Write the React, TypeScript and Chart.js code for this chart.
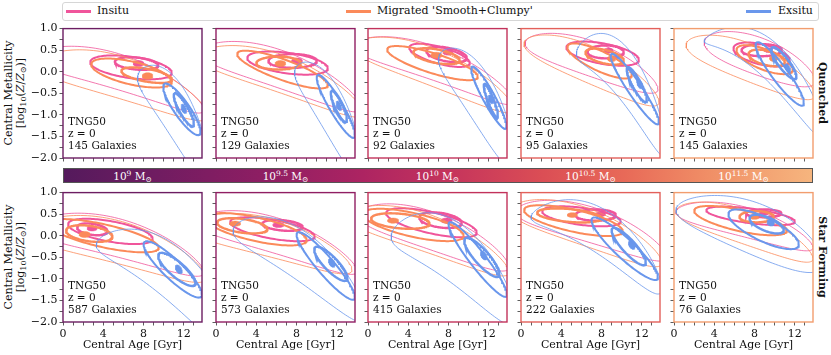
import React, { useEffect, useRef } from 'react';
import { Chart, registerables } from 'chart.js';
Chart.register(...registerables);

const SERIF = "'DejaVu Serif', 'Liberation Serif', serif";

// ---------------- data ----------------
const massExponents = ['9', '9.5', '10', '10.5', '11.5'];
const quenchedGalaxies = [145, 129, 92, 95, 145];
const starFormingGalaxies = [587, 573, 415, 222, 76];
const ageTickLabels = [0, 4, 8, 12];
const metallicityTickLabels = [1, 0.5, 0, -0.5, -1, -1.5, -2];
const populationNames = ['Insitu', "Migrated 'Smooth+Clumpy'", 'Exsitu'];
const rowNames = ['Quenched', 'Star Forming'];

// density peak (filled innermost level): [age, logZ, halfAge, halfZ, tilt]
// contour levels (outer, middle, inner): [age, logZ, halfAge, halfZ, tilt, bend, taper]
const insituQuenchedPeak = [
  [7.5, 0.19, 0.53, 0.07, 0], [8.05, 0.25, 0.53, 0.07, 0], [7.95, 0.45, 0.5, 0.065, 0],
  [8.7, 0.49, 0.45, 0.06, 0], [9.37, 0.5, 0.4, 0.055, 0],
];
const insituQuenchedLevels = [
  [[5.5, 0.0, 8.5, 0.42, -0.07, -0.004], [6.75, 0.1, 4.05, 0.25, -0.03, 0], [7.3, 0.19, 2.15, 0.14, -0.02, 0]],
  [[6.5, 0.05, 8, 0.45, -0.08, -0.004], [7.1, 0.2, 4.0, 0.24, -0.03, 0], [7.6, 0.25, 2.4, 0.16, 0, 0]],
  [[6.5, 0.2, 8, 0.4, -0.08, -0.004], [7.1, 0.38, 3.0, 0.2, -0.06, 0], [7.8, 0.4, 2.0, 0.16, -0.04, 0]],
  [[7, 0.3, 6.6, 0.42, -0.08, -0.004], [8.1, 0.42, 3.6, 0.24, -0.04, 0], [8.4, 0.46, 1.8, 0.15, 0, 0]],
  [[8.5, 0.35, 5.5, 0.45, -0.08, -0.004], [8.7, 0.4, 2.8, 0.24, -0.05, 0], [8.7, 0.5, 2.0, 0.14, 0, 0]],
];
const migratedQuenchedPeak = [
  [8.4, -0.1, 0.53, 0.077, 0], [6.4, 0.19, 0.53, 0.07, 0], [6.8, 0.38, 0.55, 0.07, 0],
  [9.0, 0.3, 0.4, 0.07, 0], [9.9, 0.31, 0.4, 0.07, 0],
];
const migratedQuenchedLevels = [
  [[6, -0.15, 8.5, 0.5, -0.07, -0.004], [6.8, -0.03, 4.0, 0.27, -0.05, 0], [8.3, -0.08, 2.5, 0.15, -0.04, 0]],
  [[6.5, -0.05, 8.2, 0.45, -0.08, -0.004], [6.6, 0.05, 4.5, 0.25, -0.08, 0], [6.2, 0.2, 2.2, 0.15, 0, 0]],
  [[6.5, 0.1, 8, 0.45, -0.09, -0.004], [6.4, 0.2, 4.5, 0.24, -0.07, 0], [6.8, 0.36, 2.3, 0.16, -0.04, 0]],
  [[7, 0.15, 6.7, 0.45, -0.1, -0.004], [7.8, 0.25, 3.2, 0.25, -0.1, 0], [8.3, 0.35, 1.9, 0.16, -0.05, 0]],
  [[7.6, 0.2, 6.4, 0.45, -0.09, -0.004], [9.0, 0.28, 2.8, 0.25, -0.08, 0], [9.2, 0.32, 1.8, 0.17, -0.05, 0]],
];
const exsituQuenchedPeak = [
  [12.0, -0.86, 0.28, 0.096, -0.2], [12.2, -0.79, 0.28, 0.096, -0.2], [12.2, -0.64, 0.25, 0.09, -0.2],
  [11.8, -0.29, 0.3, 0.09, -0.2], [11.3, 0.08, 0.3, 0.085, -0.2],
];
const exsituQuenchedLevels = [
  [[11, -0.85, 3.6, 0.75, -0.3, -0.03, 0.3], [11.8, -0.87, 1.85, 0.3, -0.28, 0], [12.0, -0.88, 1.0, 0.2, -0.33, 0]],
  [[11.2, -0.8, 3.4, 0.72, -0.33, -0.03, 0.3], [11.9, -0.8, 1.9, 0.3, -0.35, 0], [12.2, -0.8, 0.8, 0.2, -0.38, 0]],
  [[10.8, -0.5, 3.8, 0.75, -0.3, -0.025, 0.3], [12.0, -0.6, 1.75, 0.28, -0.38, 0], [12.2, -0.67, 0.7, 0.18, -0.5, 0]],
  [[10, 0.0, 4.5, 0.68, -0.25, -0.035, 0.3], [11.3, -0.4, 2.4, 0.28, -0.32, 0], [11.5, -0.3, 1.0, 0.2, -0.35, 0]],
  [[9, 0.35, 6, 0.5, -0.18, -0.02, 0.5], [10.5, -0.05, 2.4, 0.3, -0.28, 0], [10.9, 0.2, 1.25, 0.2, -0.25, 0]],
];

const insituStarFormingPeak = [
  [2.9, 0.17, 0.5, 0.06, 0], [6.2, 0.25, 0.55, 0.06, 0], [7.8, 0.35, 0.55, 0.06, 0],
  [7.9, 0.5, 0.5, 0.055, 0], [8.9, 0.52, 0.45, 0.045, 0],
];
const insituStarFormingLevels = [
  [[5.5, -0.05, 8.5, 0.45, -0.06, -0.004], [4.7, 0.1, 4.2, 0.24, -0.04, 0], [2.9, 0.15, 1.5, 0.13, -0.03, 0]],
  [[6, 0.0, 8, 0.42, -0.07, -0.004], [5.6, 0.15, 4.2, 0.22, -0.04, 0], [6.6, 0.24, 2.0, 0.12, -0.02, 0]],
  [[6.5, 0.1, 7.5, 0.45, -0.08, -0.004], [6.3, 0.3, 4.5, 0.25, -0.05, 0], [7.2, 0.36, 2.1, 0.17, -0.03, 0]],
  [[7, 0.25, 7.5, 0.42, -0.07, -0.004], [6.0, 0.45, 3.9, 0.2, -0.03, 0], [7.4, 0.48, 2.0, 0.13, 0, 0]],
  [[7, 0.32, 6.8, 0.35, -0.06, -0.004], [7.6, 0.46, 4.4, 0.17, -0.03, 0], [8.9, 0.52, 1.75, 0.09, 0, 0]],
];
const migratedStarFormingPeak = [
  [2.15, 0.03, 0.55, 0.07, 0], [1.9, 0.28, 0.55, 0.06, 0], [2.5, 0.35, 0.55, 0.06, 0],
  [5.1, 0.48, 0.5, 0.055, 0], [8.0, 0.43, 0.45, 0.05, 0],
];
const migratedStarFormingLevels = [
  [[5.5, -0.15, 8.7, 0.5, -0.06, -0.004], [4, 0.0, 5.5, 0.27, -0.05, 0], [2.6, 0.05, 2.3, 0.18, -0.03, 0]],
  [[5.5, -0.05, 8, 0.45, -0.06, -0.004], [4, 0.15, 5, 0.28, -0.05, 0], [2.6, 0.23, 2.5, 0.16, -0.03, 0]],
  [[6, 0.05, 8, 0.45, -0.08, -0.004], [4.5, 0.25, 5, 0.28, -0.05, 0], [3.2, 0.34, 2.9, 0.17, -0.02, 0]],
  [[6.5, 0.2, 7.5, 0.45, -0.08, -0.004], [5.2, 0.35, 4.9, 0.26, -0.05, 0], [4.8, 0.47, 3.2, 0.15, -0.02, 0]],
  [[7, 0.2, 6.8, 0.4, -0.08, -0.004], [6.6, 0.35, 4.6, 0.25, -0.05, 0], [8.2, 0.44, 1.7, 0.13, 0, 0]],
];
const exsituStarFormingPeak = [
  [11.5, -0.78, 0.35, 0.09, -0.15], [11.5, -0.63, 0.33, 0.09, -0.15], [11.5, -0.46, 0.33, 0.09, -0.15],
  [11.0, -0.22, 0.33, 0.085, -0.15], [9.6, 0.3, 0.36, 0.075, -0.05],
];
const exsituStarFormingLevels = [
  [[10.5, -0.82, 7.2, 0.7, -0.17, -0.012, 0.3], [10.9, -0.78, 2.9, 0.3, -0.2, 0], [11.3, -0.78, 1.85, 0.22, -0.17, 0]],
  [[8.3, -0.45, 6.6, 0.62, -0.15, -0.01, 0.15], [10.9, -0.7, 2.9, 0.3, -0.25, 0], [11.4, -0.65, 1.65, 0.22, -0.2, 0]],
  [[8.5, -0.38, 6.2, 0.75, -0.15, -0.015, 0.2], [10.9, -0.55, 2.9, 0.3, -0.28, 0], [11.3, -0.5, 1.75, 0.24, -0.22, 0]],
  [[7.5, 0.15, 6.5, 0.55, -0.127, -0.013, 0.3], [10.3, -0.3, 3.3, 0.3, -0.2, 0], [10.7, -0.25, 1.7, 0.22, -0.22, 0]],
  [[7.5, 0.2, 7.3, 0.62, -0.083, -0.004, 0.2], [8.9, 0.15, 3.5, 0.3, -0.1, 0], [9.2, 0.27, 1.7, 0.17, -0.08, 0]],
];

// ---------------- styles / layout ----------------
const popColors = ['#f0559b', '#fb8a5a', '#6a97ec'];
const levelWidths = [0.8, 2.0, 2.4];
const panelColors = ['#6c1d62', '#901e63', '#c2325b', '#e3605a', '#f29d6e'];
const PANEL_X = [63, 216, 368, 521, 674];
const PANEL_Y = [28, 192];
const PW = 139;
const PH = 130;
const PAD_L = 45;
const PAD_T = 8;
const PAD_R = 4;
const PAD_B = 26;

const rowSets = [
  [
    [insituQuenchedPeak, insituQuenchedLevels],
    [migratedQuenchedPeak, migratedQuenchedLevels],
    [exsituQuenchedPeak, exsituQuenchedLevels],
  ],
  [
    [insituStarFormingPeak, insituStarFormingLevels],
    [migratedStarFormingPeak, migratedStarFormingLevels],
    [exsituStarFormingPeak, exsituStarFormingLevels],
  ],
];

function contour(p: number[], n = 140) {
  const [cx, cy, rx, ry, s = 0, k = 0, w = 0] = p;
  const pts: { x: number; y: number }[] = [];
  for (let i = 0; i <= n; i++) {
    const t = (i / n) * Math.PI * 2;
    const c = Math.cos(t);
    const u = rx * c;
    pts.push({ x: cx + u, y: cy + ry * Math.sin(t) * (1 + w * c) + s * u + k * u * u });
  }
  return pts;
}

function Panel({ row, col }: { row: number; col: number }) {
  const ref = useRef<HTMLCanvasElement>(null);
  useEffect(() => {
    const datasets: any[] = [];
    rowSets[row].forEach(([peaks, levels], pi) => {
      const color = popColors[pi];
      const order = 3 - pi;
      datasets.push({
        data: contour(peaks[col] as number[]),
        borderColor: color,
        backgroundColor: color,
        borderWidth: 0.5,
        fill: 'shape',
        pointRadius: 0,
        tension: 0,
        order,
      });
      (levels[col] as number[][]).forEach((lv, li) => {
        datasets.push({
          data: contour(lv),
          borderColor: color,
          borderWidth: levelWidths[li],
          fill: false,
          pointRadius: 0,
          tension: 0,
          order,
        });
      });
    });
    const frame = {
      id: 'frame',
      afterDraw(chart: any) {
        const { ctx, chartArea } = chart;
        ctx.save();
        ctx.strokeStyle = panelColors[col];
        ctx.lineWidth = 1.4;
        ctx.strokeRect(chartArea.left, chartArea.top, chartArea.right - chartArea.left, chartArea.bottom - chartArea.top);
        ctx.restore();
      },
    };
    const chart = new Chart(ref.current!, {
      type: 'line',
      data: { datasets },
      options: {
        animation: false,
        responsive: false,
        devicePixelRatio: 1,
        events: [],
        layout: { padding: { left: 0, top: PAD_T, right: PAD_R, bottom: 0 } },
        plugins: { legend: { display: false }, tooltip: { enabled: false } },
        scales: {
          x: {
            type: 'linear',
            min: 0,
            max: 13.8,
            afterFit: (s: any) => { s.height = PAD_B; },
            border: { display: false },
            grid: { drawOnChartArea: false, drawTicks: true, tickLength: 3.5, tickColor: '#333', lineWidth: 0.8 },
            ticks: {
              stepSize: 1,
              autoSkip: false,
              includeBounds: false,
              maxRotation: 0,
              padding: 2,
              color: '#111',
              font: { family: SERIF, size: 11 },
              callback: (v: any) => (row === 1 && ageTickLabels.includes(v) ? String(v) : ''),
            },
          },
          y: {
            type: 'linear',
            min: -2,
            max: 1,
            afterFit: (s: any) => { s.width = PAD_L; },
            border: { display: false },
            grid: { drawOnChartArea: false, drawTicks: true, tickLength: 3.5, tickColor: '#333', lineWidth: 0.8 },
            ticks: {
              stepSize: 0.25,
              autoSkip: false,
              includeBounds: false,
              padding: 2,
              color: '#111',
              font: { family: SERIF, size: 11 },
              callback: (v: any) => {
                if (col !== 0) return '';
                const hit = metallicityTickLabels.find((m) => Math.abs(m - v) < 1e-9);
                return hit === undefined ? '' : hit.toFixed(1).replace('-', '\u2212');
              },
            },
          },
        },
      } as any,
      plugins: [frame],
    });
    return () => chart.destroy();
  }, [row, col]);
  const w = PAD_L + PW + PAD_R;
  const h = PAD_T + PH + PAD_B;
  return (
    <canvas
      ref={ref}
      width={w}
      height={h}
      style={{ position: 'absolute', left: PANEL_X[col] - PAD_L, top: PANEL_Y[row] - PAD_T, width: w, height: h }}
    />
  );
}

const textBase: React.CSSProperties = { position: 'absolute', fontFamily: SERIF, color: '#111', whiteSpace: 'nowrap' };

export default function App() {
  const cells: JSX.Element[] = [];
  for (let r = 0; r < 2; r++) {
    for (let c = 0; c < 5; c++) {
      cells.push(<Panel key={`p${r}${c}`} row={r} col={c} />);
      const n = r === 0 ? quenchedGalaxies[c] : starFormingGalaxies[c];
      cells.push(
        <div key={`t${r}${c}`} style={{ ...textBase, left: PANEL_X[c] + 5, top: PANEL_Y[r] + 86.5, fontSize: 10.5, lineHeight: '12.3px' }}>
          TNG50<br />z = 0<br />{n} Galaxies
        </div>
      );
      if (r === 1) {
        cells.push(
          <div key={`xl${c}`} style={{ ...textBase, left: PANEL_X[c] + PW / 2, top: 338, fontSize: 11, transform: 'translateX(-50%)' }}>
            Central Age [Gyr]
          </div>
        );
      }
    }
  }
  return (
    <div style={{ position: 'absolute', left: 0, top: 0, width: 831, height: 355, background: '#fff', overflow: 'hidden' }}>
      {/* legend */}
      <div style={{ position: 'absolute', left: 62, top: 2, width: 757, height: 19, border: '1px solid #d6d6d6', borderRadius: 3, boxSizing: 'border-box', background: '#fff' }} />
      {[
        [66, 97],
        [346, 377],
        [746, 778],
      ].map(([lx, tx], i) => (
        <React.Fragment key={`lg${i}`}>
          <div style={{ position: 'absolute', left: lx, top: 10, width: 25, height: 2.5, background: popColors[i] }} />
          <div style={{ ...textBase, left: tx, top: 3, fontSize: 11, lineHeight: '16px' }}>{populationNames[i]}</div>
        </React.Fragment>
      ))}
      {/* y titles */}
      {PANEL_Y.map((py, r) => (
        <div key={`yt${r}`} style={{ ...textBase, left: 15, top: py + PH / 2, fontSize: 11, lineHeight: '12px', textAlign: 'center', transform: 'translate(-50%, -50%) rotate(-90deg)' }}>
          Central Metallicity<br />[log<sub style={{ fontSize: 8, verticalAlign: '-2px', lineHeight: 0 }}>10</sub>(<i>Z</i>/<i>Z</i><sub style={{ fontSize: 8, verticalAlign: '-2px', lineHeight: 0 }}>⊙</sub>)]
        </div>
      ))}
      {/* row labels */}
      {PANEL_Y.map((py, r) => (
        <div key={`rl${r}`} style={{ ...textBase, left: 822, top: py + PH / 2, fontSize: 11, fontWeight: 'bold', transform: 'translate(-50%, -50%) rotate(90deg)' }}>
          {rowNames[r]}
        </div>
      ))}
      {/* colorbar */}
      <div style={{ position: 'absolute', left: 63, top: 168, width: 750, height: 15, boxSizing: 'border-box', border: '0.8px solid #555', background: 'linear-gradient(to right, #541a5c 0%, #6f1c61 12%, #8f1e63 27%, #ad2462 40%, #c6355c 52%, #db4e55 64%, #e86a58 75%, #f08e66 86%, #f6b57e 100%)' }} />
      {massExponents.map((m, i) => (
        <div key={`cb${i}`} style={{ ...textBase, color: '#fff', left: PANEL_X[i] + PW / 2, top: 175.5, fontSize: 10.5, lineHeight: '12px', transform: 'translate(-50%, -50%)' }}>
          10<sup style={{ fontSize: 7.5, verticalAlign: '4px', lineHeight: 0 }}>{m}</sup> M<sub style={{ fontSize: 7.5, verticalAlign: '-2px', lineHeight: 0 }}>⊙</sub>
        </div>
      ))}
      {cells}
    </div>
  );
}
